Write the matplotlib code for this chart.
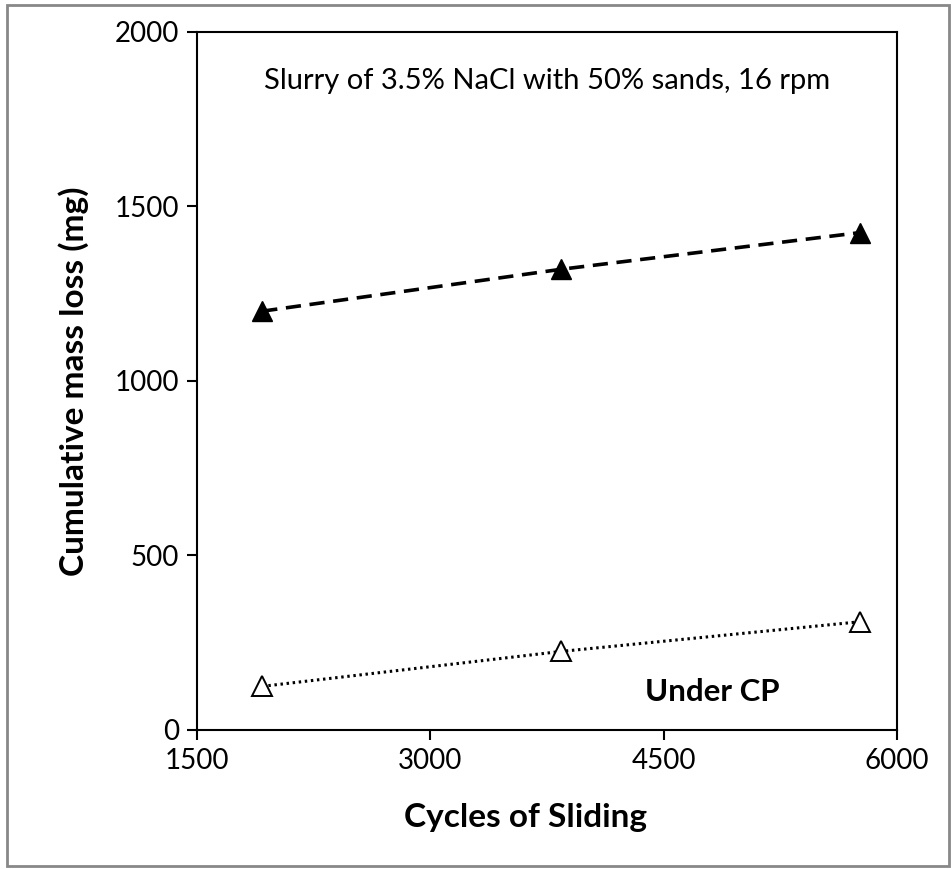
import numpy as np
import matplotlib.pyplot as plt
from matplotlib.patches import Rectangle

plt.rcParams['font.family'] = ['Lato', 'DejaVu Sans']

# data
cycles = [1920, 3840, 5760]
mass_loss = [1200, 1320, 1425]        # no CP, filled triangles
mass_loss_cp = [125, 225, 310]        # under CP, open triangles

fig = plt.figure(figsize=(9.52, 8.69), dpi=100)
ax = fig.add_axes([0.2069, 0.1600, 0.7353, 0.8032])

ax.plot(cycles, mass_loss, color='black', lw=2.6, dashes=(4.2, 2.4))
ax.plot(cycles, mass_loss_cp, color='black', lw=2.2, dashes=(0.8, 1.2))
ax.plot(cycles, mass_loss, ls='none', marker='^', ms=15, color='black')
ax.plot(cycles, mass_loss_cp, ls='none', marker='^', ms=15, mfc='white', mec='black', mew=1.4)

ax.set_xlim(1500, 6000)
ax.set_ylim(0, 2000)
ax.set_xticks([1500, 3000, 4500, 6000])
ax.set_yticks([0, 500, 1000, 1500, 2000])
ax.tick_params(direction='out', length=7, width=1.5, labelsize=20, pad=6)
for s in ax.spines.values():
    s.set_linewidth(1.5)

ax.set_xlabel('Cycles of Sliding', fontsize=24, fontweight='bold', labelpad=21)
ax.xaxis.label.set_x(0.47)
ax.set_ylabel('Cumulative mass loss (mg)', fontsize=24, fontweight='bold', labelpad=18)

ax.text(0.5, 0.93, 'Slurry of 3.5% NaCl with 50% sands, 16 rpm', transform=ax.transAxes,
        ha='center', va='center', fontsize=21)
ax.text(4810, 110, 'Under CP', ha='center', va='center', fontsize=22.5, fontweight='bold')

fig.patches.append(Rectangle((0.007, 0.004), 0.990, 0.990, transform=fig.transFigure,
                             fill=False, edgecolor='#888888', lw=2))

plt.savefig('out.png')
